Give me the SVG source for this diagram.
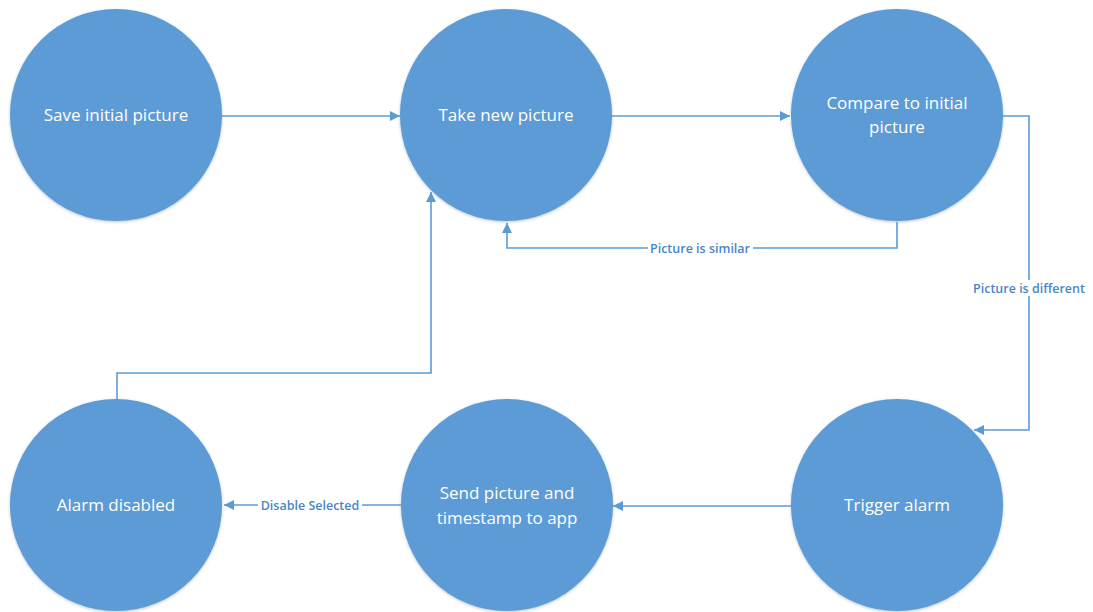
<svg xmlns="http://www.w3.org/2000/svg" width="1093" height="612" viewBox="0 0 1093 612">
  <style>
    .state circle { fill: #5b9bd5; filter: url(#soft); }
    .state text { fill: #ffffff; font-family: "Open Sans", "Noto Sans", sans-serif; font-size: 17px; text-anchor: middle; }
    .wire { fill: none; stroke: #5b9bd5; stroke-width: 1.6; }
    .tag { fill: #4a86c5; font-family: "Open Sans", "Noto Sans", sans-serif; font-size: 12.5px; font-weight: 600; text-anchor: middle; }
    .tagbg { fill: #ffffff; }
  </style>
  <defs>
    <filter id="soft" x="-10%" y="-10%" width="120%" height="120%">
      <feGaussianBlur in="SourceAlpha" stdDeviation="1.5"/>
      <feOffset dx="0" dy="1" result="b"/>
      <feFlood flood-color="#6a7f95" flood-opacity="0.45"/>
      <feComposite in2="b" operator="in"/>
      <feMerge><feMergeNode/><feMergeNode in="SourceGraphic"/></feMerge>
    </filter>
    <marker id="head" viewBox="0 0 10 10" refX="10" refY="5" markerWidth="10" markerHeight="10" markerUnits="userSpaceOnUse" orient="auto">
      <path d="M0,0 L10,5 L0,10 z" fill="#5b9bd5"/>
    </marker>
  </defs>
  <rect width="1093" height="612" fill="#ffffff"/>

  <g id="connectors">
    <path class="wire" d="M222,116 L400,116" marker-end="url(#head)"/>
    <path class="wire" d="M612,116 L790,116" marker-end="url(#head)"/>
    <path class="wire" d="M897,222 L897,248 L507,248 L507,223" marker-end="url(#head)"/>
    <path class="wire" d="M1003,116 L1029,116 L1029,430 L974,430" marker-end="url(#head)"/>
    <path class="wire" d="M791,506 L613,506" marker-end="url(#head)"/>
    <path class="wire" d="M401,505 L224,505" marker-end="url(#head)"/>
    <path class="wire" d="M117,400 L117,373 L431,373 L431,192" marker-end="url(#head)"/>

    <rect class="tagbg" x="648" y="241" width="105" height="14"/>
    <text class="tag" x="700" y="252.5">Picture is similar</text>
    <rect class="tagbg" x="970" y="280" width="118" height="16"/>
    <text class="tag" x="1029" y="292.5">Picture is different</text>
    <rect class="tagbg" x="258" y="498" width="104" height="14"/>
    <text class="tag" x="310" y="509.5">Disable Selected</text>
  </g>

  <g id="save-initial" class="state">
    <circle cx="116" cy="115" r="106"/>
    <text x="116" y="121">Save initial picture</text>
  </g>
  <g id="take-new" class="state">
    <circle cx="506" cy="115" r="106"/>
    <text x="506" y="121">Take new picture</text>
  </g>
  <g id="compare" class="state">
    <circle cx="897" cy="115" r="106"/>
    <text x="897" y="109">Compare to initial</text>
    <text x="897" y="133">picture</text>
  </g>
  <g id="alarm-disabled" class="state">
    <circle cx="116" cy="505" r="106"/>
    <text x="116" y="511">Alarm disabled</text>
  </g>
  <g id="send-picture" class="state">
    <circle cx="507" cy="505" r="106"/>
    <text x="507" y="499">Send picture and</text>
    <text x="507" y="524">timestamp to app</text>
  </g>
  <g id="trigger-alarm" class="state">
    <circle cx="897" cy="505" r="106"/>
    <text x="897" y="511">Trigger alarm</text>
  </g>
</svg>
